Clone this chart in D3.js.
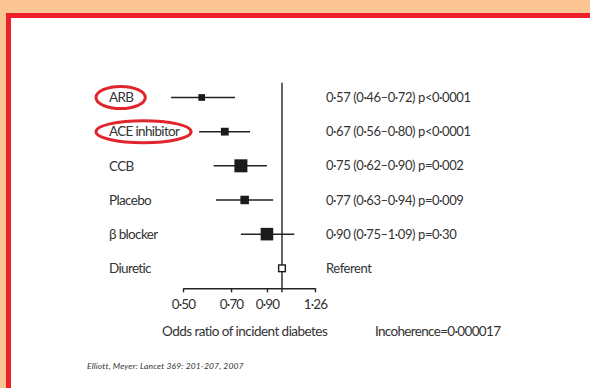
<!DOCTYPE html>
<html>
<head>
<meta charset="utf-8">
<script src="https://cdn.jsdelivr.net/npm/d3@7"></script>
<style>
  html, body { margin: 0; padding: 0; background: #fff; }
  svg { display: block; }
  text { font-family: Lato, "Open Sans", sans-serif; fill: #333; }
</style>
</head>
<body>
<div id="chart"></div>
<script>
// ---- data ----
const categories = ["ARB", "ACE inhibitor", "CCB", "Placebo", "β blocker", "Diuretic"];
const oddsRatios = [0.57, 0.67, 0.75, 0.77, 0.90, 1.00];
const lowerCI    = [0.46, 0.56, 0.62, 0.63, 0.75, null];
const upperCI    = [0.72, 0.80, 0.90, 0.94, 1.09, null];
const weights    = [0.30, 0.42, 1.00, 0.50, 0.95, 0.30];
const resultLabels = [
  "0·57 (0·46–0·72) p<0·0001",
  "0·67 (0·56–0·80) p<0·0001",
  "0·75 (0·62–0·90) p=0·002",
  "0·77 (0·63–0·94) p=0·009",
  "0·90 (0·75–1·09) p=0·30",
  "Referent"
];
const referentCategory = "Diuretic";
const highlighted = ["ARB", "ACE inhibitor"];
const tickValues = [0.50, 0.70, 0.90, 1.26];
const tickLabels = ["0·50", "0·70", "0·90", "1·26"];
const xTitle = "Odds ratio of incident diabetes";
const incoherence = "Incoherence=0·000017";
const citation = "Elliott, Meyer: Lancet 369: 201-207, 2007";

const W = 590, H = 388;
const svg = d3.select("#chart").append("svg").attr("width", W).attr("height", H);

// frame
svg.append("rect").attr("x", 0).attr("y", 0).attr("width", W).attr("height", H).attr("fill", "#fbc593");
svg.append("rect").attr("x", 6).attr("y", 13).attr("width", W).attr("height", H).attr("fill", "#ee1f27");
svg.append("rect").attr("x", 11).attr("y", 18).attr("width", W).attr("height", H).attr("fill", "#ffffff");

const x = d3.scaleLog().domain([0.5, 1.26]).range([183, 315]);
const y = d3.scalePoint().domain(categories).range([97.5, 268.3]);
const size = d3.scaleLinear().domain([0, 1]).range([4, 13]);
const axisY = 288.3;

const rows = categories.map((c, i) => ({
  cat: c, or: oddsRatios[i], lo: lowerCI[i], hi: upperCI[i], w: weights[i], res: resultLabels[i]
}));

// tighten letter spacing so a text element reaches a target width
function spacingFor(node, target) {
  const w = node.getComputedTextLength();
  const n = node.textContent.length;
  if (!(w > 0)) return 0;
  return Math.max(-1.2, (target - w) / Math.max(1, n - 1)).toFixed(3);
}

// reference line at OR = 1
svg.append("line")
  .attr("x1", x(1)).attr("x2", x(1))
  .attr("y1", 82.7).attr("y2", axisY + 4)
  .attr("stroke", "#222").attr("stroke-width", 1.4);

// axis
const axis = d3.axisBottom(x).tickValues(tickValues)
  .tickFormat((d, i) => tickLabels[i]).tickSize(4).tickSizeOuter(0);
const gAxis = svg.append("g").attr("transform", `translate(0,${axisY})`).call(axis);
gAxis.attr("font-family", null).attr("font-size", null);
gAxis.select(".domain").attr("stroke", "#222").attr("stroke-width", 1.6);
gAxis.selectAll(".tick line").attr("stroke", "#222").attr("stroke-width", 1.4);
gAxis.selectAll(".tick text")
  .attr("font-size", 13.5).attr("fill", "#333").attr("y", 11).attr("dy", "0.71em")
  .attr("letter-spacing", -0.9);

// category labels
svg.selectAll("text.cat").data(rows).join("text")
  .attr("class", "cat")
  .attr("x", 109).attr("y", d => y(d.cat)).attr("dy", "0.35em")
  .attr("font-size", 13.5)
  .text(d => d.cat);
{
  const n = svg.selectAll("text.cat").filter(d => d.cat === "ACE inhibitor").node();
  svg.selectAll("text.cat").attr("letter-spacing", spacingFor(n, 71));
}

// CI lines
svg.selectAll("line.ci").data(rows.filter(d => d.lo != null)).join("line")
  .attr("class", "ci")
  .attr("x1", d => x(d.lo)).attr("x2", d => x(d.hi))
  .attr("y1", d => y(d.cat)).attr("y2", d => y(d.cat))
  .attr("stroke", "#222").attr("stroke-width", 1.5);

// squares
svg.selectAll("rect.pt").data(rows).join("rect")
  .attr("class", "pt")
  .attr("x", d => x(d.or) - size(d.w) / 2)
  .attr("y", d => y(d.cat) - size(d.w) / 2)
  .attr("width", d => size(d.w)).attr("height", d => size(d.w))
  .attr("fill", d => d.cat === referentCategory ? "#fff" : "#1a1a1a")
  .attr("stroke", "#1a1a1a")
  .attr("stroke-width", d => d.cat === referentCategory ? 1.4 : 0);

// result labels
svg.selectAll("text.res").data(rows).join("text")
  .attr("class", "res")
  .attr("x", 326).attr("y", d => y(d.cat)).attr("dy", "0.35em")
  .attr("font-size", 13)
  .text(d => d.res);
{
  const n = svg.selectAll("text.res").filter((d, i) => i === 0).node();
  svg.selectAll("text.res").attr("letter-spacing", spacingFor(n, 145));
}

// x title and incoherence
const tTitle = svg.append("text").attr("x", 162).attr("y", 331.5).attr("dy", "0.35em")
  .attr("font-size", 13.5).text(xTitle);
tTitle.attr("letter-spacing", spacingFor(tTitle.node(), 166));
const tInc = svg.append("text").attr("x", 375).attr("y", 331.5).attr("dy", "0.35em")
  .attr("font-size", 13.5).text(incoherence);
tInc.attr("letter-spacing", spacingFor(tInc.node(), 126));

// citation
const tCit = svg.append("text").attr("x", 87).attr("y", 365.7).attr("dy", "0.35em")
  .attr("font-size", 8.5).attr("font-style", "italic").text(citation);
tCit.attr("letter-spacing", spacingFor(tCit.node(), 156));

// highlight ellipses
svg.selectAll("text.cat").filter(d => highlighted.includes(d.cat)).each(function(d) {
  const b = this.getBBox();
  svg.append("ellipse")
    .attr("cx", b.x + b.width / 2 - 1)
    .attr("cy", y(d.cat))
    .attr("rx", b.width / 2 + 12)
    .attr("ry", 11)
    .attr("fill", "none")
    .attr("stroke", "#e0262c")
    .attr("stroke-width", 3);
});
</script>
</body>
</html>
